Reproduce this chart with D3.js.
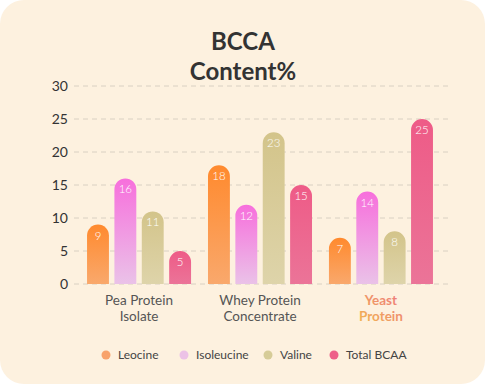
<!DOCTYPE html>
<html>
<head>
<meta charset="utf-8">
<script src="https://cdn.jsdelivr.net/npm/d3@7"></script>
<style>
  html, body { margin: 0; padding: 0; background: #fff; }
  svg { display: block; font-family: Lato, "Open Sans", sans-serif; }
</style>
</head>
<body>
<svg id="chart" width="485" height="384"></svg>
<script>
// chart data
const groups = ['Pea Protein|Isolate', 'Whey Protein|Concentrate', 'Yeast|Protein'];
const series = ['Leocine', 'Isoleucine', 'Valine', 'Total BCAA'];
const leocine = [9, 18, 7];
const isoleucine = [16, 12, 14];
const valine = [11, 23, 8];
const totalBcaa = [5, 15, 25];
const yTicks = [0, 5, 10, 15, 20, 25, 30];

const seriesValues = [leocine, isoleucine, valine, totalBcaa];
const gradStops = [
  ['#ff8a2e', '#f9a86c'],
  ['#f76fdc', '#eac2e8'],
  ['#d3c48a', '#ded4aa'],
  ['#ee5b87', '#eb7498']
];
const legendColors = ['#f8a26b', '#ecc2e6', '#d6cc98', '#ee6089'];

const width = 485, height = 384;
const svg = d3.select('#chart');
const defs = svg.append('defs');

// card background
svg.append('rect')
  .attr('x', 0).attr('y', 0)
  .attr('width', width).attr('height', height)
  .attr('rx', 24)
  .attr('fill', '#fdf1df');

// gradients
gradStops.forEach((s, i) => {
  const g = defs.append('linearGradient')
    .attr('id', `bar-grad-${i}`)
    .attr('x1', 0).attr('y1', 0).attr('x2', 0).attr('y2', 1);
  g.append('stop').attr('offset', '0%').attr('stop-color', s[0]);
  g.append('stop').attr('offset', '100%').attr('stop-color', s[1]);
});
const yeastGrad = defs.append('linearGradient')
  .attr('id', 'yeast-grad')
  .attr('x1', 0).attr('y1', 1).attr('x2', 1).attr('y2', 0);
yeastGrad.append('stop').attr('offset', '0%').attr('stop-color', '#f1b84f');
yeastGrad.append('stop').attr('offset', '100%').attr('stop-color', '#ee7381');

// title
const title = svg.append('text')
  .attr('text-anchor', 'middle')
  .attr('fill', '#333')
  .style('font-size', '24px')
  .style('font-weight', 'bold');
title.append('tspan').attr('x', 243).attr('y', 50).text('BCCA');
title.append('tspan').attr('x', 243).attr('y', 80).text('Content%');

// scales
const y = d3.scaleLinear().domain([0, 30]).range([284, 86]);

const x0 = d3.scaleBand()
  .domain(groups)
  .range([77, 443])
  .paddingInner(0.14)
  .paddingOuter(0.083);

const x1 = d3.scaleBand()
  .domain(series)
  .range([0, x0.bandwidth()])
  .paddingInner(0.2);

// gridlines
svg.append('g')
  .selectAll('line')
  .data(yTicks)
  .join('line')
  .attr('x1', 74).attr('x2', 449)
  .attr('y1', d => y(d)).attr('y2', d => y(d))
  .attr('stroke', '#d9d0c2')
  .attr('stroke-width', 1)
  .attr('stroke-dasharray', '5,4');

// y axis labels
const yAxis = svg.append('g')
  .attr('transform', 'translate(68,0)')
  .call(d3.axisLeft(y).tickValues(yTicks).tickSize(0).tickPadding(0));
yAxis.select('.domain').remove();
yAxis.selectAll('text')
  .attr('fill', '#333')
  .style('font-size', '14px')
  .style('font-family', 'Lato, sans-serif');

// rounded-top bar path
function barPath(x, w, top, bottom) {
  const r = Math.min(w / 2, bottom - top);
  return `M${x},${bottom}V${top + r}A${r},${r} 0 0 1 ${x + r},${top}` +
    `H${x + w - r}A${r},${r} 0 0 1 ${x + w},${top + r}V${bottom}Z`;
}

const bars = [];
groups.forEach((g, gi) => {
  series.forEach((s, si) => {
    bars.push({ group: g, key: s, si, value: seriesValues[si][gi] });
  });
});

const barG = svg.append('g');
barG.selectAll('path')
  .data(bars)
  .join('path')
  .attr('d', d => barPath(x0(d.group) + x1(d.key), x1.bandwidth(), y(d.value), y(0)))
  .attr('fill', d => `url(#bar-grad-${d.si})`);

barG.selectAll('text')
  .data(bars)
  .join('text')
  .attr('x', d => x0(d.group) + x1(d.key) + x1.bandwidth() / 2)
  .attr('y', d => y(d.value) + 15)
  .attr('text-anchor', 'middle')
  .attr('fill', '#fff')
  .style('font-size', '11.5px')
  .style('font-weight', 300)
  .text(d => d.value);

// x axis labels
const xl = svg.append('g');
groups.forEach((g, gi) => {
  const t = xl.append('text')
    .attr('text-anchor', 'middle')
    .attr('fill', gi === 2 ? 'url(#yeast-grad)' : '#555')
    .style('font-size', '13.5px')
    .style('font-weight', gi === 2 ? 'bold' : 'normal');
  g.split('|').forEach((line, li) => {
    t.append('tspan')
      .attr('x', x0(g) + x0.bandwidth() / 2)
      .attr('y', 305 + li * 16)
      .text(line);
  });
});

// legend
const legendX = [106, 184, 268, 334];
const legend = svg.append('g');
series.forEach((s, i) => {
  legend.append('circle')
    .attr('cx', legendX[i]).attr('cy', 355).attr('r', 4.5)
    .attr('fill', legendColors[i]);
  legend.append('text')
    .attr('x', legendX[i] + 12).attr('y', 359)
    .attr('fill', '#444')
    .style('font-size', '12px')
    .text(s);
});
</script>
</body>
</html>
